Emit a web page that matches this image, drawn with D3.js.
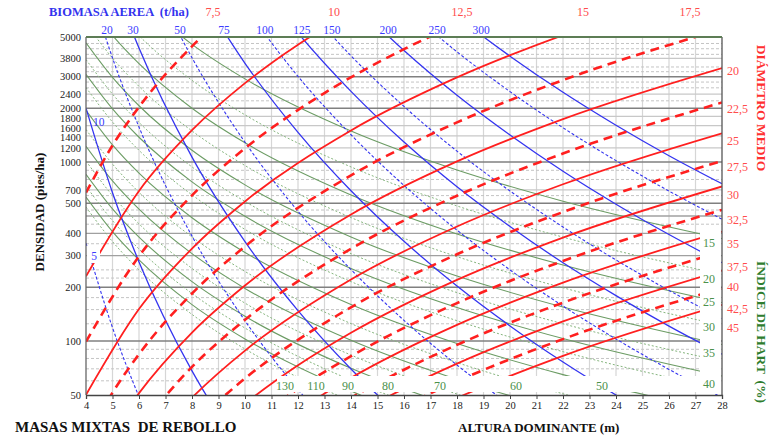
<!DOCTYPE html>
<html>
<head>
<meta charset="utf-8">
<script src="https://cdn.jsdelivr.net/npm/d3@7"></script>
<style>
  body { margin: 0; background: #fff; }
  svg { display: block; font-family: "Liberation Serif", "Times New Roman", serif; }
</style>
</head>
<body>
<div id="chart"></div>
<script>
const width = 773;
const height = 435;

// ---- data ----
const xTickValues = [4,5,6,7,8,9,10,11,12,13,14,15,16,17,18,19,20,21,22,23,24,25,26,27,28];
// where each density label sits on the axis, and its text
const yTickValues = [5000, 3800, 3000, 2400, 2000, 1765, 1550, 1370, 1200, 1000, 700, 590, 400, 300, 200, 100, 50];
const yTickLabels = ["5000", "3800", "3000", "2400", "2000", "1800", "1600", "1400", "1200", "1000", "700", "500", "400", "300", "200", "100", "50"];

const gridDark = [3000, 2000, 1000, 590, 200, 100];
const gridMid = [500, 400, 300];
const gridLight = [3800, 2400, 1800, 1600, 1400, 1200, 700];
const gridDashed = [4600, 4300, 4000, 3400, 3200, 2800, 2600, 2200, 900, 800, 650, 540, 450, 350, 250, 225, 175, 150, 125, 90, 80, 70, 60];

// diámetro medio (cm): [altura dominante, densidad]
const diamLines = [
  {label: "7,5",  dashed: true,  pts: [[4,676],[5,1239],[6,2032],[8,4436],[9,6109]]},
  {label: "10",   dashed: false, pts: [[4,230],[6,690],[8,1507],[10,2761],[12,4529],[13,5623]]},
  {label: "12,5", dashed: true,  pts: [[4,99.3],[6,298],[8,652],[10,1194],[13,2432],[16,4276],[18,5888]]},
  {label: "15",   dashed: false, pts: [[4,50.1],[6,151],[8,329],[10,603],[14,1503],[18,2972],[22,5117],[23,5781]]},
  {label: "17,5", dashed: true,  pts: [[4,28.1],[5,51.5],[6,84.5],[8,184.5],[10,338],[14,843],[18,1667],[22,2871],[28,5534]]},
  {label: "20",   dashed: false, pts: [[5,31.2],[6,51.2],[8,111.7],[10,204.6],[14,510],[18,1009],[22,1738],[28,3350]]},
  {label: "22,5", dashed: true,  pts: [[6,32.9],[8,71.8],[10,131.5],[14,328],[18,649],[22,1117],[28,2153]]},
  {label: "25",   dashed: false, pts: [[7,33.7],[8,48.3],[10,88.5],[14,221],[18,437],[22,752],[28,1449]]},
  {label: "27,5", dashed: true,  pts: [[8,33.8],[10,61.9],[14,154.5],[18,305.5],[22,526],[28,1014]]},
  {label: "30",   dashed: false, pts: [[9,33.6],[10,44.7],[12,73.3],[14,111.4],[18,220],[22,379],[28,731]]},
  {label: "32,5", dashed: true,  pts: [[10,33],[12,54.2],[14,82.4],[18,163],[22,280.5],[28,541]]},
  {label: "35",   dashed: false, pts: [[11,32.4],[12,41],[14,62.4],[18,123.3],[22,212.3],[28,409]]},
  {label: "37,5", dashed: true,  pts: [[12,31.7],[14,48.2],[16,69.2],[18,95.3],[22,164],[28,316]]},
  {label: "40",   dashed: false, pts: [[13,30.9],[14,37.8],[16,54.3],[18,74.8],[22,128.8],[28,248]]},
  {label: "42,5", dashed: true,  pts: [[14,30.1],[16,43.3],[18,59.6],[22,102.6],[28,197.7]]},
  {label: "45",   dashed: false, pts: [[15,29.3],[16,34.9],[18,48.1],[22,82.8],[28,159.6]]}
];

// biomasa aérea (t/ha)
const biomLines = [
  {label: "5",   dashed: true,  pts: [[4,353],[5,119],[6,48.9],[7,23]]},
  {label: "10",  dashed: false, pts: [[4,2004],[5,675],[6,277],[8,68.2],[9,38.5]]},
  {label: "20",  dashed: true,  pts: [[4.5,6397],[5,3819],[6,1570],[8,386],[10,130],[12,53.6],[13,36.3]]},
  {label: "30",  dashed: false, pts: [[5.5,6637],[6,4335],[8,1067],[10,360],[12,148],[14,69.8],[16,36.4]]},
  {label: "50",  dashed: true,  pts: [[7,7345],[8,3828],[10,1291],[12,531],[14,251],[16,130.6],[18,73.5],[20,44]]},
  {label: "75",  dashed: false, pts: [[8.5,7870],[10,3565],[12,1466],[14,692],[16,361],[18,203],[20,121.6],[22,76.4],[24,50],[26,33.8]]},
  {label: "100", dashed: true,  pts: [[10,7328],[12,3013],[14,1422],[16,741],[18,417],[20,250],[22,157],[24,102.8],[26,69.5],[28,48.4]]},
  {label: "125", dashed: false, pts: [[11,8035],[12,5260],[14,2483],[16,1294],[18,728],[20,437],[22,274],[24,179.5],[26,121.3],[28,84.5]]},
  {label: "150", dashed: true,  pts: [[12,8318],[14,3926],[16,2046],[18,1151],[20,690],[22,434],[24,284],[26,192],[28,133.7]]},
  {label: "200", dashed: false, pts: [[14,8054],[16,4198],[18,2360],[20,1416],[22,889],[24,582],[26,394],[28,274]]},
  {label: "250", dashed: true,  pts: [[16,7345],[18,4130],[20,2477],[22,1556],[24,1019],[26,689],[28,480]]},
  {label: "300", dashed: false, pts: [[17,8630],[18,6516],[20,3908],[22,2455],[24,1607],[26,1086],[28,757]]}
];

// índice de Hart (%)
const hartLines = [
  {label: "15",  dashed: false, pts: [[6,8072],[8,4550],[10,2917],[14,1493],[18,904],[22,605],[28,374]]},
  {label: "20",  dashed: true,  pts: [[5,7311],[6,5082],[8,2864],[10,1837],[14,940],[18,569],[22,381],[28,235.5]]},
  {label: "25",  dashed: false, pts: [[4,7962],[5,5105],[6,3548],[8,2000],[10,1282],[14,656],[18,397],[22,266],[28,164.4]]},
  {label: "30",  dashed: true,  pts: [[4,5943],[5,3811],[6,2649],[8,1493],[10,957],[14,490],[18,296.5],[22,198.6],[28,122.7]]},
  {label: "35",  dashed: false, pts: [[4,4634],[5,2972],[6,2065],[8,1164],[10,746],[14,382],[18,231],[22,155],[28,95.7]]},
  {label: "40",  dashed: true,  pts: [[4,3741],[5,2399],[6,1667],[8,940],[10,603],[14,308],[18,186.6],[22,125],[28,77.3]]},
  {label: "45",  dashed: false, pts: [[4,3090],[5,1982],[6,1377],[8,776],[10,498],[14,254.7],[18,154],[22,103.3],[28,63.8]]},
  {label: "50",  dashed: true,  pts: [[4,2612],[5,1675],[6,1164],[8,656],[10,420.7],[14,215],[18,130],[22,87.3],[28,54]]},
  {label: "60",  dashed: false, pts: [[4,1945],[5,1247],[6,867],[8,489],[10,313],[14,160],[18,97],[22,65],[28,40.2]]},
  {label: "70",  dashed: true,  pts: [[4,1521],[5,975],[6,678],[8,382],[10,245],[14,125.3],[18,75.9],[22,50.8],[28,31.4]]},
  {label: "80",  dashed: false, pts: [[4,1225],[5,785],[6,546],[8,308],[10,197],[14,101],[18,61.1],[22,40.9]]},
  {label: "90",  dashed: true,  pts: [[4,1014],[5,650],[6,452],[8,255],[10,163],[14,83.6],[18,50.6],[22,33.9]]},
  {label: "100", dashed: false, pts: [[4,855],[5,548],[6,381],[8,215],[10,137.7],[14,70.5],[18,42.7]]},
  {label: "110", dashed: true,  pts: [[4,735],[5,471],[6,327],[8,184.5],[10,118.3],[14,60.5],[18,36.6]]},
  {label: "120", dashed: false, pts: [[4,638],[5,409],[6,284],[8,160],[10,102.8],[14,52.6],[18,31.8]]},
  {label: "130", dashed: true,  pts: [[4,561],[5,360],[6,250],[8,141],[10,90.4],[14,46.2],[18,28]]}
];

// label positions [altura, densidad]
const diamTopLabels = [["7,5", 8.79], ["10", 13.36], ["12,5", 18.19], ["15", 22.75], ["17,5", 26.79]];
const diamRightLabels = [["20", 3236], ["22,5", 1983], ["25", 1310], ["27,5", 941], ["30", 655], ["32,5", 475],
                         ["35", 349], ["37,5", 260], ["40", 200], ["42,5", 151], ["45", 118]];
const biomTopLabels = [["20", 4.79], ["30", 5.77], ["50", 7.55], ["75", 9.21], ["100", 10.75], ["125", 12.15],
                       ["150", 13.28], ["200", 15.4], ["250", 17.25], ["300", 18.91]];
const biomLeftLabels = [["10", 4.26, 1675], ["5", 4.2, 299]];
const hartBottomLabels = [["130", 11.51], ["110", 12.68], ["90", 13.89], ["80", 15.4], ["70", 17.36], ["60", 20.23], ["50", 23.47]];
const hartRightLabels = [["15", 354], ["20", 222.6], ["25", 165.5], ["30", 119.7], ["35", 85.8], ["40", 57.6]];

// ---- scales ----
const x = d3.scaleLinear().domain([4, 28]).range([86, 722]);
const y = d3.scaleLog().domain([50, 5000]).range([395, 37]);

const svg = d3.select("#chart")
  .append("svg")
  .attr("width", width)
  .attr("height", height);

svg.append("clipPath").attr("id", "plotClip")
  .append("rect")
  .attr("x", x(4)).attr("y", y(5000))
  .attr("width", x(28) - x(4)).attr("height", y(50) - y(5000));

const grid = svg.append("g");

// vertical grid
grid.selectAll("line.v").data(xTickValues.slice(1, -1))
  .join("line")
  .attr("x1", d => x(d)).attr("x2", d => x(d))
  .attr("y1", y(5000)).attr("y2", y(50))
  .attr("stroke", "#d6d6d6").attr("stroke-width", 1.2);

const hGrid = (vals, color, w, dash) => {
  grid.append("g").selectAll("line").data(vals)
    .join("line")
    .attr("x1", x(4)).attr("x2", x(28))
    .attr("y1", d => y(d)).attr("y2", d => y(d))
    .attr("stroke", color).attr("stroke-width", w)
    .attr("stroke-dasharray", dash);
};
hGrid(gridDashed, "#c4c4c4", 1, "3,2");
hGrid(gridLight, "#c8c8c8", 1.2, null);
hGrid(gridMid, "#a0a0a0", 1.3, null);
hGrid(gridDark, "#808080", 1.5, null);

const line = d3.line()
  .x(d => x(d[0]))
  .y(d => y(d[1]))
  .curve(d3.curveMonotoneX);

const plotG = svg.append("g").attr("clip-path", "url(#plotClip)");

// Hart lines (green)
plotG.append("g").selectAll("path").data(hartLines)
  .join("path")
  .attr("d", d => line(d.pts))
  .attr("fill", "none")
  .attr("stroke", d => d.dashed ? "#86b57e" : "#6c9c64")
  .attr("stroke-width", d => d.dashed ? 1 : 1.1)
  .attr("stroke-dasharray", d => d.dashed ? "2,2" : null);

// biomass lines (blue)
plotG.append("g").selectAll("path").data(biomLines)
  .join("path")
  .attr("d", d => line(d.pts))
  .attr("fill", "none")
  .attr("stroke", "#3434f0")
  .attr("stroke-width", d => d.dashed ? 1.1 : 1.3)
  .attr("stroke-dasharray", d => d.dashed ? "3,2" : null);

// diameter lines (red)
plotG.append("g").selectAll("path").data(diamLines)
  .join("path")
  .attr("d", d => line(d.pts))
  .attr("fill", "none")
  .attr("stroke", "#ff1f1f")
  .attr("stroke-width", d => d.dashed ? 2.6 : 1.8)
  .attr("stroke-dasharray", d => d.dashed ? "9,6" : null);

// white label strips
svg.append("rect").attr("x", 277).attr("y", 376).attr("width", 423).attr("height", 16).attr("fill", "#fff");
svg.append("rect").attr("x", 700).attr("y", 226).attr("width", 21).attr("height", 168).attr("fill", "#fff");
svg.append("rect").attr("x", 87).attr("y", 246).attr("width", 13).attr("height", 17).attr("fill", "#fff");

// plot frame
svg.append("line").attr("x1", x(4)).attr("x2", x(4)).attr("y1", y(5000)).attr("y2", y(50))
  .attr("stroke", "#666").attr("stroke-width", 1.3);
svg.append("line").attr("x1", x(28)).attr("x2", x(28)).attr("y1", y(5000)).attr("y2", y(50))
  .attr("stroke", "#555").attr("stroke-width", 1.3);
svg.append("line").attr("x1", x(4)).attr("x2", x(28)).attr("y1", y(5000)).attr("y2", y(5000))
  .attr("stroke", "#5d7d55").attr("stroke-width", 2);

// x axis
const xAxis = svg.append("g")
  .attr("transform", `translate(0,${y(50)})`)
  .call(d3.axisBottom(x).tickValues(xTickValues).tickSize(4).tickFormat(d3.format("d")));
xAxis.select(".domain").attr("stroke", "#444").attr("stroke-width", 1.3);
xAxis.selectAll(".tick line").attr("stroke", "#444");
xAxis.selectAll("text").attr("font-family", "Liberation Serif").attr("font-size", 10.5).attr("fill", "#222");

// y tick labels
svg.append("g").selectAll("text").data(yTickValues)
  .join("text")
  .attr("x", 81).attr("y", d => y(d))
  .attr("dy", "0.35em")
  .attr("text-anchor", "end")
  .attr("font-size", 10.5)
  .attr("fill", "#222")
  .text((d, i) => yTickLabels[i]);

// series labels
svg.append("g").selectAll("text").data(diamTopLabels)
  .join("text")
  .attr("x", d => x(d[1])).attr("y", 16)
  .attr("text-anchor", "middle").attr("font-size", 12).attr("fill", "#ff4d4d")
  .text(d => d[0]);

svg.append("g").selectAll("text").data(diamRightLabels)
  .join("text")
  .attr("x", 727).attr("y", d => y(d[1])).attr("dy", "0.35em")
  .attr("font-size", 12).attr("fill", "#ff4d4d")
  .text(d => d[0]);

svg.append("g").selectAll("text").data(biomTopLabels)
  .join("text")
  .attr("x", d => x(d[1])).attr("y", 34)
  .attr("text-anchor", "middle").attr("font-size", 11.5).attr("fill", "#3b3bff")
  .text(d => d[0]);

svg.append("g").selectAll("text").data(biomLeftLabels)
  .join("text")
  .attr("x", d => x(d[1])).attr("y", d => y(d[2])).attr("dy", "0.35em")
  .attr("font-size", 11.5).attr("fill", "#3b3bff")
  .text(d => d[0]);

svg.append("g").selectAll("text").data(hartBottomLabels)
  .join("text")
  .attr("x", d => x(d[1])).attr("y", y(56.2)).attr("dy", "0.35em")
  .attr("text-anchor", "middle").attr("font-size", 12).attr("fill", "#4b914b")
  .text(d => d[0]);

svg.append("g").selectAll("text").data(hartRightLabels)
  .join("text")
  .attr("x", 703).attr("y", d => y(d[1])).attr("dy", "0.35em")
  .attr("font-size", 12).attr("fill", "#4b914b")
  .text(d => d[0]);

// titles
svg.append("text").attr("x", 49).attr("y", 16)
  .attr("font-size", 12.5).attr("font-weight", "bold").attr("fill", "#3333ee")
  .style("white-space", "pre")
  .text("BIOMASA AEREA  (t/ha)");

svg.append("text").attr("transform", "translate(44,212) rotate(-90)")
  .attr("text-anchor", "middle").attr("font-size", 13).attr("font-weight", "bold").attr("fill", "#111")
  .text("DENSIDAD (pies/ha)");

svg.append("text").attr("transform", "translate(757,108) rotate(90)")
  .attr("text-anchor", "middle").attr("font-size", 13.5).attr("font-weight", "bold").attr("fill", "#ff3030")
  .text("DIÁMETRO MEDIO");

svg.append("text").attr("transform", "translate(757,332) rotate(90)")
  .attr("text-anchor", "middle").attr("font-size", 13.5).attr("font-weight", "bold").attr("fill", "#2e7d2e")
  .style("white-space", "pre")
  .text("ÍNDICE DE HART  (%)");

svg.append("text").attr("x", 15).attr("y", 432)
  .attr("font-size", 15).attr("font-weight", "bold").attr("fill", "#111")
  .style("white-space", "pre")
  .text("MASAS MIXTAS  DE REBOLLO");

svg.append("text").attr("x", 458).attr("y", 432)
  .attr("font-size", 13).attr("font-weight", "bold").attr("fill", "#111")
  .text("ALTURA DOMINANTE (m)");
</script>
</body>
</html>
